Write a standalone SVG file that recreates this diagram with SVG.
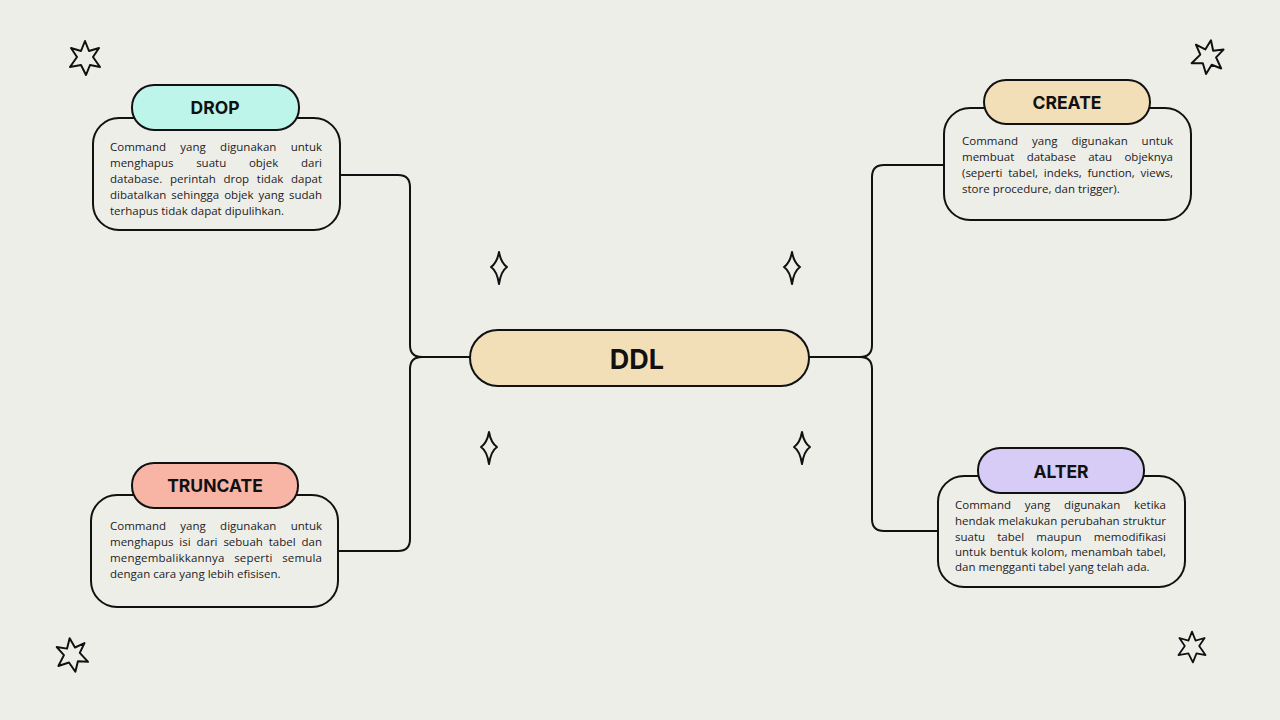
<svg xmlns="http://www.w3.org/2000/svg" width="1280" height="720" viewBox="0 0 1280 720">
<defs>
<style>
.bg{fill:#EEEEE9}
.body{fill:none;stroke:#111;stroke-width:2}
.pill{stroke:#111;stroke-width:2}
.title{font-family:Inter,"Liberation Sans",sans-serif;font-weight:700;font-size:17.5px;fill:#111;text-anchor:middle;dominant-baseline:central}
.main{font-family:Inter,"Liberation Sans",sans-serif;font-weight:700;font-size:27px;fill:#111;text-anchor:middle;dominant-baseline:central}
.txt{font-family:"Open Sans","Liberation Sans",sans-serif;font-size:11.5px;fill:#222}
.conn{fill:none;stroke:#111;stroke-width:2}
.deco{fill:none;stroke:#111;stroke-width:2;stroke-linejoin:round}
</style>
<polygon id="star" points="0,-17 4,-7 14,-10 8,-1 15,9 5,7 1,17 -4,7 -15,9 -8,-1 -14,-10 -4,-7"/>
<path id="spark" d="M0,-16 Q2,-5 8,-1 Q2,3 0,16 Q-2,3 -8,-1 Q-2,-5 0,-16 Z"/>
</defs>
<rect class="bg" x="0" y="0" width="1280" height="720"/>

<g id="connectors">
<path class="conn" d="M340,175 H398 Q410,175 410,187 V345 Q410,357 422,357 H470"/>
<path class="conn" d="M470,357 H422 Q410,357 410,369 V539 Q410,551 398,551 H338"/>
<path class="conn" d="M944,165 H884 Q872,165 872,177 V345 Q872,357 860,357 H809"/>
<path class="conn" d="M809,357 H860 Q872,357 872,369 V519 Q872,531 884,531 H938"/>
</g>

<g id="ddl">
<rect class="pill" x="470" y="330" width="339" height="56" rx="28" fill="#F3DFB7"/>
<text class="main" x="637" y="359">DDL</text>
</g>

<g id="drop">
<rect class="body" x="93" y="118" width="247" height="112" rx="26"/>
<rect class="pill" x="132" y="85" width="167" height="45" rx="22" fill="#BDF5EA"/>
<text class="title" x="215" y="107">DROP</text>
<text class="txt" x="110" y="151" word-spacing="11.3" textLength="212" lengthAdjust="spacing">Command yang digunakan untuk</text>
<text class="txt" x="110" y="167" word-spacing="19.7" textLength="212" lengthAdjust="spacing">menghapus suatu objek dari</text>
<text class="txt" x="110" y="183" word-spacing="4.7" textLength="212" lengthAdjust="spacing">database. perintah drop tidak dapat</text>
<text class="txt" x="110" y="199" word-spacing="1.9" textLength="212" lengthAdjust="spacing">dibatalkan sehingga objek yang sudah</text>
<text class="txt" x="110" y="215">terhapus tidak dapat dipulihkan.</text>
</g>

<g id="create">
<rect class="body" x="944" y="108" width="247" height="112" rx="26"/>
<rect class="pill" x="984" y="80" width="166" height="44" rx="22" fill="#F3DFB7"/>
<text class="title" x="1067" y="102">CREATE</text>
<text class="txt" x="962" y="145" word-spacing="10.9" textLength="211" lengthAdjust="spacing">Command yang digunakan untuk</text>
<text class="txt" x="962" y="161" word-spacing="9.3" textLength="211" lengthAdjust="spacing">membuat database atau objeknya</text>
<text class="txt" x="962" y="177" word-spacing="2.8" textLength="211" lengthAdjust="spacing">(seperti tabel, indeks, function, views,</text>
<text class="txt" x="962" y="193">store procedure, dan trigger).</text>
</g>

<g id="truncate">
<rect class="body" x="91" y="495" width="247" height="112" rx="26"/>
<rect class="pill" x="132" y="463" width="166" height="45" rx="22" fill="#F8B5A6"/>
<text class="title" x="215" y="485">TRUNCATE</text>
<text class="txt" x="110" y="530" word-spacing="11.3" textLength="212" lengthAdjust="spacing">Command yang digunakan untuk</text>
<text class="txt" x="110" y="546" word-spacing="2.9" textLength="212" lengthAdjust="spacing">menghapus isi dari sebuah tabel dan</text>
<text class="txt" x="110" y="562" word-spacing="6.5" textLength="212" lengthAdjust="spacing">mengembalikkannya seperti semula</text>
<text class="txt" x="110" y="578">dengan cara yang lebih efisisen.</text>
</g>

<g id="alter">
<rect class="body" x="938" y="476" width="247" height="111" rx="26"/>
<rect class="pill" x="978" y="448" width="166" height="45" rx="22" fill="#D6CCF6"/>
<text class="title" x="1061" y="471">ALTER</text>
<text class="txt" x="955" y="509" word-spacing="10.7" textLength="211" lengthAdjust="spacing">Command yang digunakan ketika</text>
<text class="txt" x="955" y="525" word-spacing="0.2" textLength="211" lengthAdjust="spacing">hendak melakukan perubahan struktur</text>
<text class="txt" x="955" y="541" word-spacing="9.1" textLength="211" lengthAdjust="spacing">suatu tabel maupun memodifikasi</text>
<text class="txt" x="955" y="556" word-spacing="0.5" textLength="211" lengthAdjust="spacing">untuk bentuk kolom, menambah tabel,</text>
<text class="txt" x="955" y="571">dan mengganti tabel yang telah ada.</text>
</g>

<g id="decorations">
<use href="#star" class="deco" transform="translate(85,58)"/>
<use href="#star" class="deco" transform="translate(1208,57) rotate(10)"/>
<use href="#star" class="deco" transform="translate(72,655) rotate(-8)"/>
<use href="#star" class="deco" transform="translate(1192,647) scale(0.9)"/>
<use href="#spark" class="deco" transform="translate(499,268)"/>
<use href="#spark" class="deco" transform="translate(792,268)"/>
<use href="#spark" class="deco" transform="translate(489,448)"/>
<use href="#spark" class="deco" transform="translate(802,448)"/>
</g>
</svg>
